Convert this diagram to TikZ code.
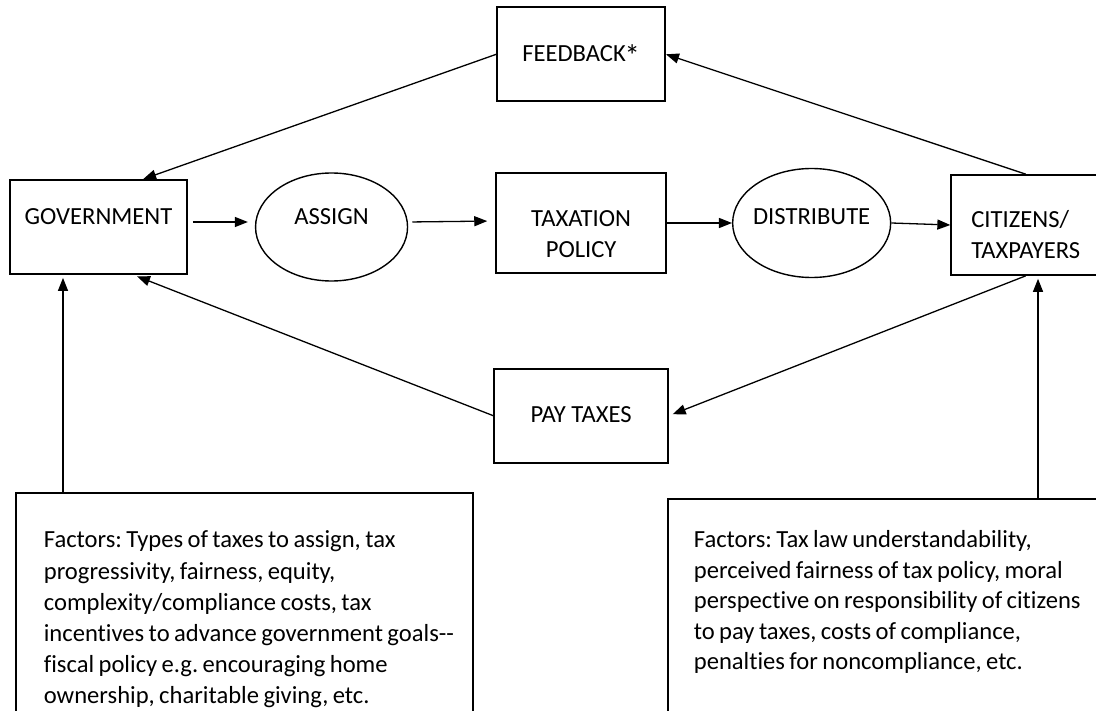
\documentclass[tikz,border=0pt]{standalone}
\usepackage{fontspec}
\setmainfont{Carlito}
\newfontfamily\factorfont{Carlito}[Ligatures=NoCommon]
\newcommand\factorspacing{\spaceskip=2.2pt plus 0.5pt minus 0.2pt\relax}
\usepackage{tikz}
\usetikzlibrary{positioning, arrows.meta, shapes.geometric}
\tikzset{
	>={Triangle[length=6.5pt, width=5pt]},
	node distance=35pt,
	block/.style={draw, rectangle, line width=0.85pt, text height=8pt, font=\fontsize{12.3}{15.4}\selectfont},
	oval/.style={draw, ellipse, line width=0.7pt, text height=8pt, font=\fontsize{12.3}{15.4}\selectfont},
	factors/.style={draw, rectangle, line width=0.85pt, anchor=north west, align=left, text height=9pt},
	flow/.style={->, line width=0.65pt}
}

\begin{document}
\frenchspacing
\begin{tikzpicture}[x=0.5pt, y=-0.5pt]
	\useasboundingbox (0,0) rectangle (1096,711);
	% middle row
	\node[block, minimum width=88.5pt, minimum height=47pt, text depth=10pt] (gov) at (98.5,227) {GOVERNMENT};
	\node[oval, right=33.5pt of gov, minimum width=76pt, minimum height=54pt, text depth=10pt] (assign) {ASSIGN};
	\node[block, right=43.5pt of assign, yshift=2pt, minimum width=85pt, minimum height=50pt, align=center, text height=36pt, text depth=2pt] (policy) {TAXATION\\POLICY};
	\node[oval, right=32.5pt of policy, minimum width=79pt, minimum height=54.5pt, text depth=6.5pt] (distribute) {\makebox[0pt]{DISTRIBUTE}};
	\node[block, right=29.5pt of distribute, yshift=-1pt, minimum width=74.5pt, minimum height=50pt, align=left, text height=35pt, text depth=2pt] (citizens) {CITIZENS/\\TAXPAYERS};
	\node[block, above=35pt of policy, minimum width=84pt, minimum height=47pt, text depth=1pt] (feedback) {FEEDBACK\kern-0.6pt\raisebox{-2.4pt}{\scalebox{1.25}{*}}};
	\node[block, below=47pt of policy, minimum width=87pt, minimum height=47pt, text depth=1pt] (paytaxes) {PAY TAXES};

	% factor boxes
	\node[factors, text width=200.5pt, inner xsep=14pt, inner ysep=18.5pt, text depth=85pt, font=\factorfont\fontsize{12.3}{15.6}\selectfont] (govfactors) at (15,492) {\factorspacing
		Factors: Types of taxes to assign, tax\\
		progressivity, fairness, equity,\\
		complexity/compliance costs, tax\\
		\mbox{incentives to advance government goals-{}-}\\
		fiscal policy e.g. encouraging home\\
		ownership, charitable giving, etc.};
	\node[factors, text width=215pt, inner xsep=13pt, inner ysep=15.5pt, text depth=80pt, font=\factorfont\fontsize{12.3}{15.2}\selectfont] (citfactors) at (667,498) {\factorspacing
		Factors: Tax law understandability,\\
		perceived fairness of tax policy, moral\\
		perspective on responsibility of citizens\\
		to pay taxes, costs of compliance,\\
		penalties for noncompliance, etc.};
	\coordinate (govin) at ([xshift=24pt]govfactors.north west);
	\coordinate (citin) at ([xshift=185.5pt]citfactors.north west);

	% arrows
	\draw[flow, shorten <=2.5pt, shorten >=3.5pt] ([yshift=2.5pt]gov.east) -- ([yshift=2.5pt]assign.west);
	\draw[flow, shorten <=2pt, shorten >=4pt] ([yshift=2.5pt]assign.east) -- ([yshift=1pt]policy.west);
	\draw[flow] (policy.east) -- (distribute.west);
	\draw[flow] (distribute.east) -- (citizens.west);
	\draw[flow] (feedback.west) -- (gov.47);
	\draw[flow] (citizens.north) -- (feedback.east);
	\draw[flow, shorten >=2pt] (citizens.south) -- (paytaxes.east);
	\draw[flow, shorten >=2pt] (paytaxes.west) -- (gov.-54);
	\draw[flow, shorten >=1.5pt] (govin) -- (govin |- gov.south);
	\draw[flow, shorten >=1.5pt] (citin) -- (citin |- citizens.south);
\end{tikzpicture}
\end{document}
